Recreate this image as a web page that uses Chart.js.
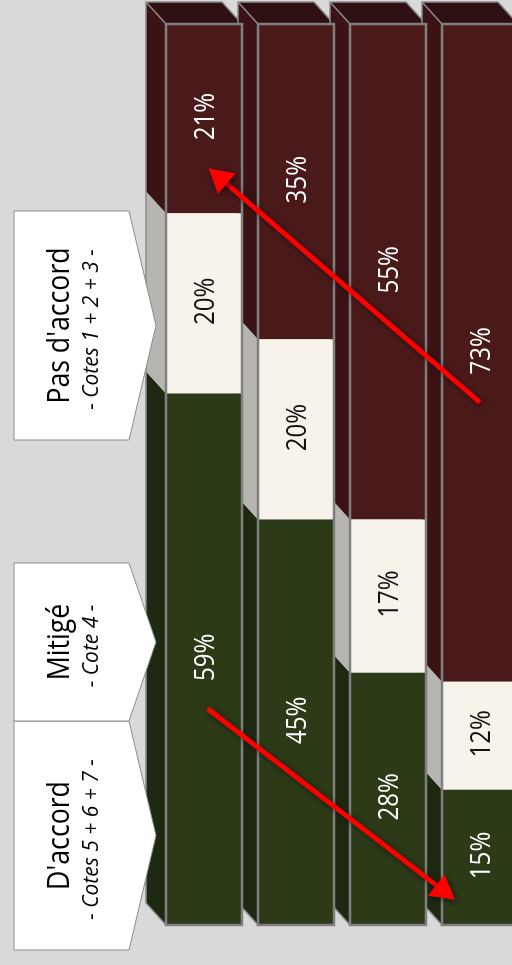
<!DOCTYPE html>
<html>
<head>
<meta charset="utf-8">
<script src="https://cdn.jsdelivr.net/npm/chart.js@4"></script>
<style>
  html, body { margin: 0; padding: 0; background: #d9d9d9; overflow: hidden; }
  canvas { display: block; }
</style>
</head>
<body>
<canvas id="graphique" width="530" height="965"></canvas>
<script>
// Répartition des réponses par groupe (en %)
var groupes = ['1', '2', '3', '4'];
var daccord = [59, 45, 28, 15];
var mitige = [20, 20, 17, 12];
var pasDaccord = [21, 35, 55, 73];

var titres = ["D'accord", 'Mitigé', "Pas d'accord"];
var sousTitres = ['- Cotes 5 + 6 + 7 -', '- Cote 4 -', '- Cotes 1 + 2 + 3 -'];

// flèches de tendance : [groupe, %] départ -> arrivée
var flecheHaut = [[3, 58], [0.05, 84]];
var flecheBas = [[0.04, 24], [2.73, 2.8]];

var faces = ['#2c3a18', '#f7f3ea', '#4a1a1a'];
var cotes = ['#1e2912', '#b7b5af', '#3b1314'];
var dessus = '#2f1012';
var texteCouleur = ['#ffffff', '#111111', '#ffffff'];
var prof = { dx: 20, dy: 22 };

// texte tourné de 90°, avec un léger resserrement horizontal
function texteVertical(ctx, txt, x, y, police, serre) {
  ctx.save();
  ctx.translate(x, y);
  ctx.rotate(-Math.PI / 2);
  ctx.scale(serre, 1);
  ctx.font = police;
  ctx.textAlign = 'center';
  ctx.textBaseline = 'middle';
  ctx.fillText(txt, 0, 0);
  ctx.restore();
}

// faces latérales et dessus des barres (effet 3D)
var barres3D = {
  id: 'barres3D',
  beforeDatasetsDraw: function(chart) {
    var ctx = chart.ctx;
    var n = chart.data.datasets.length;
    for (var j = 0; j < groupes.length; j++) {
      var haut = null, bas = null, gauche = null, droite = null;
      for (var i = 0; i < n; i++) {
        var el = chart.getDatasetMeta(i).data[j];
        var g = el.x - el.width / 2;
        var t = Math.min(el.y, el.base), b = Math.max(el.y, el.base);
        ctx.beginPath();
        ctx.moveTo(g, t);
        ctx.lineTo(g, b);
        ctx.lineTo(g - prof.dx, b - prof.dy);
        ctx.lineTo(g - prof.dx, t - prof.dy);
        ctx.closePath();
        ctx.fillStyle = cotes[i];
        ctx.fill();
        haut = haut === null ? t : Math.min(haut, t);
        bas = bas === null ? b : Math.max(bas, b);
        gauche = g; droite = el.x + el.width / 2;
      }
      // dessus
      ctx.beginPath();
      ctx.moveTo(gauche, haut);
      ctx.lineTo(droite, haut);
      ctx.lineTo(droite - prof.dx, haut - prof.dy);
      ctx.lineTo(gauche - prof.dx, haut - prof.dy);
      ctx.closePath();
      ctx.fillStyle = dessus;
      ctx.fill();
      // contour du côté et du dessus
      ctx.beginPath();
      ctx.moveTo(gauche, bas);
      ctx.lineTo(gauche - prof.dx, bas - prof.dy);
      ctx.lineTo(gauche - prof.dx, haut - prof.dy);
      ctx.lineTo(droite - prof.dx, haut - prof.dy);
      ctx.lineTo(droite, haut);
      ctx.moveTo(gauche, haut);
      ctx.lineTo(gauche - prof.dx, haut - prof.dy);
      ctx.strokeStyle = '#8a8a8a';
      ctx.lineWidth = 1.5;
      ctx.stroke();
    }
  },
  afterDatasetsDraw: function(chart) {
    var ctx = chart.ctx;
    var n = chart.data.datasets.length;
    for (var j = 0; j < groupes.length; j++) {
      var e0 = chart.getDatasetMeta(0).data[j];
      var eN = chart.getDatasetMeta(n - 1).data[j];
      var g = e0.x - e0.width / 2;
      ctx.strokeStyle = '#7f7f7f';
      ctx.lineWidth = 2.5;
      ctx.strokeRect(g, eN.y, e0.width, e0.base - eN.y);
      for (var i = 0; i < n; i++) {
        var el = chart.getDatasetMeta(i).data[j];
        var v = chart.data.datasets[i].data[j];
        ctx.fillStyle = texteCouleur[i];
        texteVertical(ctx, v + '%', el.x + 2, (el.y + el.base) / 2 - 2, '28px "Open Sans", sans-serif', 0.86);
      }
    }
  }
};

function fleche(ctx, x1, y1, x2, y2) {
  var ang = Math.atan2(y2 - y1, x2 - x1);
  var lg = 24, la = 13.5;
  var bx = x2 - Math.cos(ang) * lg, by = y2 - Math.sin(ang) * lg;
  ctx.save();
  ctx.shadowColor = 'rgba(0,0,0,0.55)';
  ctx.shadowBlur = 6;
  ctx.shadowOffsetX = 2;
  ctx.shadowOffsetY = 2;
  ctx.strokeStyle = '#ff0000';
  ctx.fillStyle = '#ff0000';
  ctx.lineWidth = 5;
  ctx.beginPath();
  ctx.moveTo(x1, y1);
  ctx.lineTo(bx, by);
  ctx.stroke();
  ctx.beginPath();
  ctx.moveTo(x2, y2);
  ctx.lineTo(bx + Math.sin(ang) * la, by - Math.cos(ang) * la);
  ctx.lineTo(bx - Math.sin(ang) * la, by + Math.cos(ang) * la);
  ctx.closePath();
  ctx.fill();
  ctx.restore();
}

// étiquettes à gauche et flèches
var annotations = {
  id: 'annotations',
  afterDraw: function(chart) {
    var ctx = chart.ctx;
    var xs = chart.scales.x, ys = chart.scales.y;
    [flecheHaut, flecheBas].forEach(function(f) {
      fleche(ctx, xs.getPixelForValue(f[0][0]), ys.getPixelForValue(f[0][1]),
        xs.getPixelForValue(f[1][0]), ys.getPixelForValue(f[1][1]));
    });

    var boites = [
      { haut: 721, bas: 950 },
      { haut: 563, bas: 721 },
      { haut: 211, bas: 440 }
    ];
    boites.forEach(function(b, k) {
      var milieu = (b.haut + b.bas) / 2;
      ctx.beginPath();
      ctx.moveTo(14, b.haut);
      ctx.lineTo(129, b.haut);
      ctx.lineTo(156, milieu);
      ctx.lineTo(129, b.bas);
      ctx.lineTo(14, b.bas);
      ctx.closePath();
      ctx.fillStyle = '#ffffff';
      ctx.fill();
      ctx.strokeStyle = '#8c8c8c';
      ctx.lineWidth = 1;
      ctx.stroke();

      ctx.fillStyle = '#000000';
      texteVertical(ctx, titres[k], 60, milieu, '31px "Open Sans", sans-serif', 0.86);
      texteVertical(ctx, sousTitres[k], 92, milieu + 4, 'italic 21px "Open Sans", sans-serif', 1);
    });
  }
};

var graphique = new Chart(document.getElementById('graphique'), {
  type: 'bar',
  data: {
    labels: groupes,
    datasets: [
      { label: titres[0], data: daccord, backgroundColor: faces[0] },
      { label: titres[1], data: mitige, backgroundColor: faces[1] },
      { label: titres[2], data: pasDaccord, backgroundColor: faces[2] }
    ]
  },
  options: {
    responsive: false,
    animation: false,
    layout: { padding: { left: 158, right: 4, top: 24, bottom: 40 } },
    datasets: { bar: { barPercentage: 1, categoryPercentage: 76 / 92, borderWidth: 0 } },
    plugins: {
      legend: { display: false },
      tooltip: { enabled: false }
    },
    scales: {
      x: { stacked: true, display: false },
      y: { stacked: true, display: false, min: 0, max: 100 }
    }
  },
  plugins: [barres3D, annotations]
});
</script>
</body>
</html>
